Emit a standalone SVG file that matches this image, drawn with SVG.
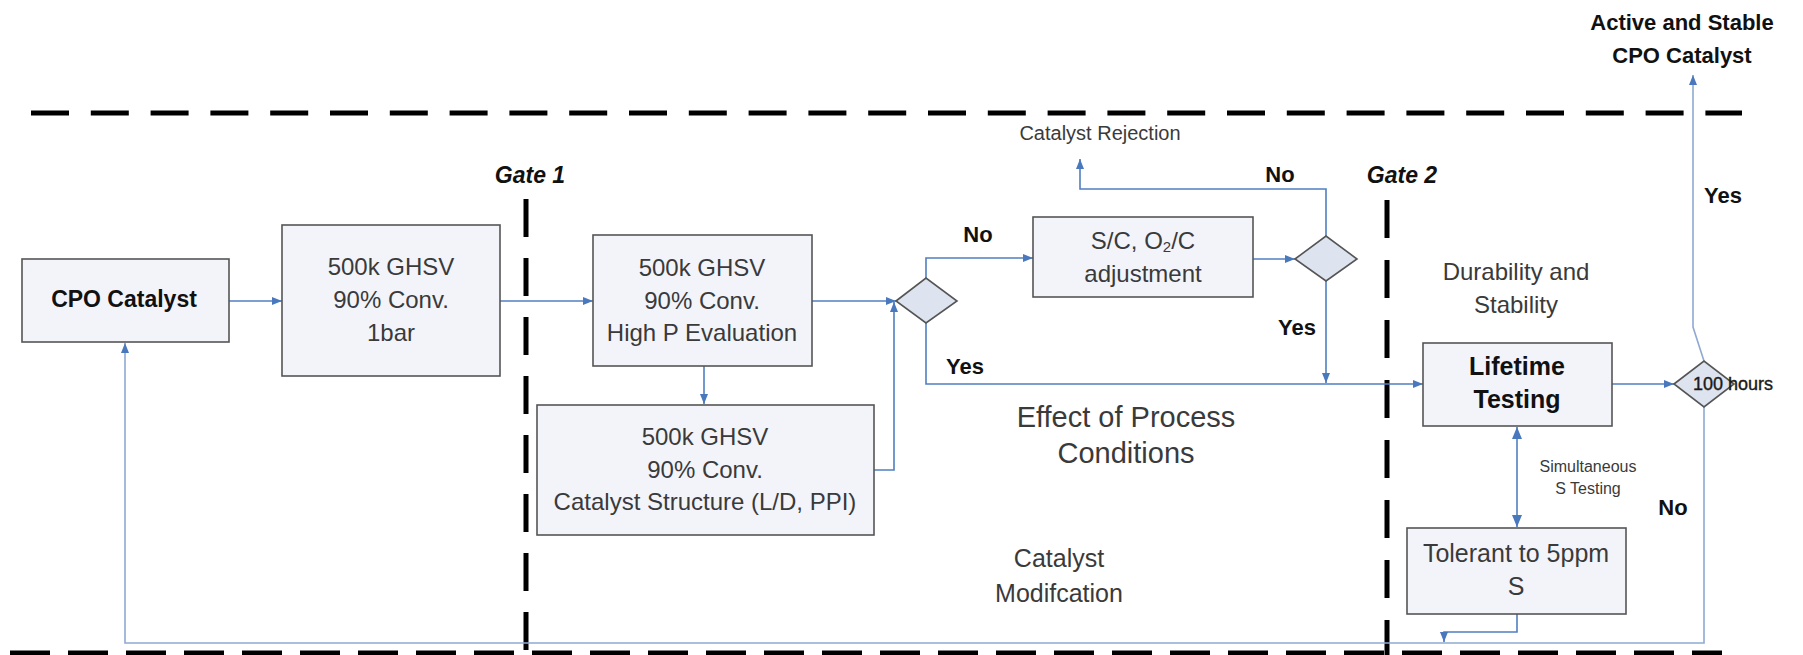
<svg xmlns="http://www.w3.org/2000/svg" width="1803" height="655" viewBox="0 0 1803 655">
<defs>
<style>
.box{fill:#f3f4fa;stroke:#555;stroke-width:1.6}
.dia{fill:#dde3ef;stroke:#555;stroke-width:1.6}
.t{font-family:"Liberation Sans",Arial,sans-serif;fill:#3a3a3a;text-anchor:middle}
.bt{font-family:"Liberation Sans",Arial,sans-serif;fill:#111;font-weight:bold;text-anchor:middle}
.gate{font-family:"Liberation Sans",Arial,sans-serif;fill:#111;font-weight:bold;font-style:italic;text-anchor:middle;font-size:23px}
.c{fill:none;stroke:#4f7fc0;stroke-width:1.6}
.cl{fill:none;stroke:#8fa9d2;stroke-width:1.6}
.dash{fill:none;stroke:#000;stroke-width:5}
</style>
<marker id="ah" viewBox="0 0 10 8" refX="10" refY="4" markerWidth="10" markerHeight="8" markerUnits="userSpaceOnUse" orient="auto-start-reverse">
<path d="M0,0 L10,4 L0,8 z" fill="#4a78bd"/>
</marker>
<marker id="ah2" viewBox="0 0 12 10" refX="12" refY="5" markerWidth="12" markerHeight="10" markerUnits="userSpaceOnUse" orient="auto-start-reverse">
<path d="M0,0 L12,5 L0,10 z" fill="#4a78bd"/>
</marker>
</defs>
<rect width="1803" height="655" fill="#fff"/>

<g id="boundaries">
<path class="dash" d="M31,113 H1742" stroke-dasharray="38 21.8"/>
<path class="dash" d="M10,653 H1722" stroke-width="6" stroke-dasharray="40 18"/>
<path class="dash" d="M526,199 V655" stroke-dasharray="38 21"/>
<path class="dash" d="M1387,200 V655" stroke-dasharray="38 22"/>
</g>

<g id="connectors">
<path class="c" d="M199,301 H282" marker-end="url(#ah)"/>
<path class="c" d="M500,301 H593" marker-end="url(#ah)"/>
<path class="c" d="M812,301 H896" marker-end="url(#ah)"/>
<path class="c" d="M704,366 V404" marker-end="url(#ah)"/>
<path class="c" d="M874,470 H894 V302" marker-end="url(#ah)"/>
<path class="c" d="M926,278 V258 H1033" marker-end="url(#ah)"/>
<path class="c" d="M926,323 V384 H1423" marker-end="url(#ah)"/>
<path class="c" d="M1253,259 H1295" marker-end="url(#ah)"/>
<path class="c" d="M1326,236 V189 H1080 V159" marker-end="url(#ah)"/>
<path class="c" d="M1326,281 V383" marker-end="url(#ah)"/>
<path class="c" d="M1612,384 H1674" marker-end="url(#ah)"/>
<path class="cl" d="M1704,361 L1693,327 V75" marker-end="url(#ah)"/>
<path class="cl" d="M1704,407 V643 H125 V343" marker-end="url(#ah)"/>
<path class="c" d="M1517,427 V527" stroke-width="3" marker-start="url(#ah2)" marker-end="url(#ah2)"/>
<path class="c" d="M1517,614 V632 H1444 V642" marker-end="url(#ah)"/>
</g>

<g id="cpo-catalyst">
<rect class="box" x="22" y="259" width="207" height="83"/>
<text class="bt" x="124" y="307" font-size="23">CPO Catalyst</text>
</g>

<g id="box-1bar">
<rect class="box" x="282" y="225" width="218" height="151"/>
<text class="t" font-size="24"><tspan x="391" y="275">500k GHSV</tspan><tspan x="391" y="308">90% Conv.</tspan><tspan x="391" y="341">1bar</tspan></text>
</g>

<g id="box-highp">
<rect class="box" x="593" y="235" width="219" height="131"/>
<text class="t" font-size="24"><tspan x="702" y="276">500k GHSV</tspan><tspan x="702" y="309">90% Conv.</tspan><tspan x="702" y="341">High P Evaluation</tspan></text>
</g>

<g id="box-structure">
<rect class="box" x="537" y="405" width="337" height="130"/>
<text class="t" font-size="24"><tspan x="705" y="445">500k GHSV</tspan><tspan x="705" y="478">90% Conv.</tspan><tspan x="705" y="510">Catalyst Structure (L/D, PPI)</tspan></text>
</g>

<g id="decision-1">
<path class="dia" d="M896,301 L926,278 L957,301 L926,323 Z"/>
</g>

<g id="box-adjustment">
<rect class="box" x="1033" y="217" width="220" height="80"/>
<text class="t" font-size="24"><tspan x="1143" y="249">S/C, O<tspan font-size="15" dy="3">2</tspan><tspan dy="-3">/C</tspan></tspan><tspan x="1143" y="282">adjustment</tspan></text>
</g>

<g id="decision-2">
<path class="dia" d="M1295,259 L1326,236 L1357,259 L1326,281 Z"/>
</g>

<g id="lifetime-testing">
<rect class="box" x="1423" y="343" width="189" height="83"/>
<text class="bt" font-size="25"><tspan x="1517" y="375">Lifetime</tspan><tspan x="1517" y="408">Testing</tspan></text>
</g>

<g id="decision-3">
<path class="dia" d="M1674,384 L1704,361 L1734,384 L1704,407 Z"/>
<text x="1693" y="390" font-family="Liberation Sans, Arial, sans-serif" font-size="18" fill="#1a1a1a" stroke="#1a1a1a" stroke-width="0.4">100 hours</text>
</g>

<g id="tolerant">
<rect class="box" x="1407" y="528" width="219" height="86"/>
<text class="t" font-size="25"><tspan x="1516" y="562">Tolerant to 5ppm</tspan><tspan x="1516" y="595">S</tspan></text>
</g>

<g id="labels">
<text class="gate" x="530" y="183">Gate 1</text>
<text class="gate" x="1402" y="183">Gate 2</text>
<text class="bt" x="978" y="242" font-size="22">No</text>
<text class="bt" x="965" y="374" font-size="22">Yes</text>
<text class="bt" x="1280" y="182" font-size="22">No</text>
<text class="bt" x="1297" y="335" font-size="22">Yes</text>
<text class="bt" x="1723" y="203" font-size="22">Yes</text>
<text class="bt" x="1673" y="515" font-size="22">No</text>
<text class="t" x="1100" y="140" font-size="20" fill="#444">Catalyst Rejection</text>
<text class="bt" font-size="22"><tspan x="1682" y="30">Active and Stable</tspan><tspan x="1682" y="63">CPO Catalyst</tspan></text>
<text class="t" font-size="24"><tspan x="1516" y="280">Durability and</tspan><tspan x="1516" y="313">Stability</tspan></text>
<text class="t" font-size="29"><tspan x="1126" y="427">Effect of Process</tspan><tspan x="1126" y="463">Conditions</tspan></text>
<text class="t" font-size="25"><tspan x="1059" y="567">Catalyst</tspan><tspan x="1059" y="602">Modifcation</tspan></text>
<text class="t" font-size="16" fill="#666"><tspan x="1588" y="472">Simultaneous</tspan><tspan x="1588" y="494">S Testing</tspan></text>
</g>
</svg>
